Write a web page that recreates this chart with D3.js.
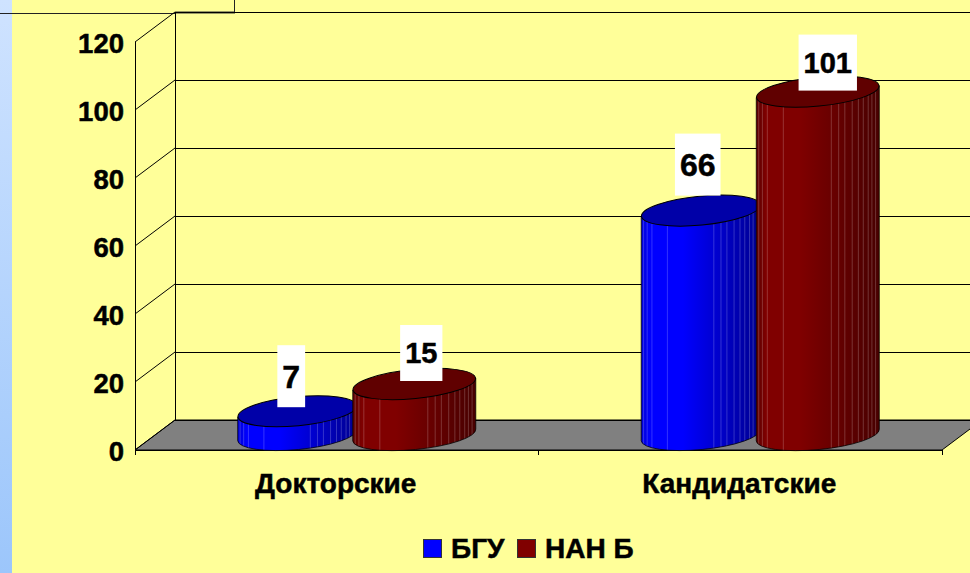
<!DOCTYPE html>
<html>
<head>
<meta charset="utf-8">
<script src="https://cdn.jsdelivr.net/npm/d3@7/dist/d3.min.js"></script>
<style>
html, body { margin: 0; padding: 0; background: #ffff99; overflow: hidden; }
svg { display: block; }
text { font-family: "Liberation Sans", Arial, sans-serif; font-weight: bold; fill: #000; stroke: #000; stroke-width: 0.5px; }
</style>
</head>
<body>
<div id="chart"></div>
<script>
// values
var categories = ["Докторские", "Кандидатские"];
var seriesNames = ["БГУ", "НАН Б"];
var bguValues = [7, 66];
var nanValues = [15, 101];
var yTicks = [0, 20, 40, 60, 80, 100, 120];

// colours for each series: body left, body mid, body right, top
var seriesColors = [
    { legend: "#0000ff", edge: "#0000d8", left: "#0000ff", right: "#000090", top: "#0000a8" },
    { legend: "#800000", edge: "#5a0000", left: "#800000", right: "#480000", top: "#600000" }
];
// small nudges for the white label boxes, as in the original
var labelStyle = [
    [{ dx: -6, dy: -4, size: 32 }, { dx: 5, dy: -3, size: 29 }],
    [{ dx: -3, dy: -15, size: 32 }, { dx: 8, dy: -1, size: 29 }]
];
// thin light streaks on the cylinders, fraction of the width
var streaks = [0.02, 0.05, 0.09, 0.22, 0.61, 0.67, 0.72, 0.78, 0.83, 0.87, 0.91, 0.94, 0.97];
// the red cylinders are a little wider and overlap the blue ones
var extraLeft = [0, 4];

const width = 970;
const height = 573;
const depthX = 40;
const depthY = -30;

var svg = d3.select("#chart")
    .append("svg")
    .attr("width", width)
    .attr("height", height);

var defs = svg.append("defs");

// page background
var strip = defs.append("linearGradient")
    .attr("id", "strip")
    .attr("x1", 0).attr("y1", 0).attr("x2", 0).attr("y2", 1);
strip.append("stop").attr("offset", "0%").attr("stop-color", "#cfe3ff");
strip.append("stop").attr("offset", "100%").attr("stop-color", "#9cc6fb");

svg.append("rect").attr("width", width).attr("height", height).attr("fill", "#ffff99");
svg.append("rect").attr("width", 12).attr("height", height).attr("fill", "url(#strip)");

// frame left over from the slide title
svg.append("line").attr("x1", 0).attr("x2", 175).attr("y1", 13.5).attr("y2", 13.5)
    .attr("stroke", "#222").attr("stroke-width", 1);
svg.append("line").attr("x1", 234.5).attr("x2", 234.5).attr("y1", 0).attr("y2", 13)
    .attr("stroke", "#222").attr("stroke-width", 1);
svg.append("line").attr("x1", 175).attr("x2", 235).attr("y1", 12.5).attr("y2", 12.5)
    .attr("stroke", "#333").attr("stroke-width", 2);

// scales
var y = d3.scaleLinear().domain([0, 120]).range([450, 42]);
var x0 = d3.scaleBand().domain(categories).range([135, 942])
    .paddingInner(0.41).paddingOuter(0.205);
var x1 = d3.scaleBand().domain(seriesNames).range([0, x0.bandwidth()]);

// floor
svg.append("polygon")
    .attr("points", [[135, y(0)], [942, y(0)], [942 + depthX, y(0) + depthY], [135 + depthX, y(0) + depthY]].join(" "))
    .attr("fill", "#808080")
    .attr("stroke", "#000")
    .attr("stroke-width", 1);

// walls and gridlines
var grid = svg.append("g").attr("stroke", "#000").attr("stroke-width", 1).attr("shape-rendering", "crispEdges");
grid.selectAll(".back")
    .data(yTicks)
    .enter().append("line")
    .attr("class", "back")
    .attr("x1", 135 + depthX)
    .attr("x2", width)
    .attr("y1", function(d) { return y(d) + depthY; })
    .attr("y2", function(d) { return y(d) + depthY; });
grid.append("line").attr("x1", 135 + depthX).attr("x2", 135 + depthX)
    .attr("y1", y(120) + depthY).attr("y2", y(0) + depthY);
grid.append("line").attr("x1", 135.5).attr("x2", 135.5)
    .attr("y1", y(120)).attr("y2", y(0) + 5);
grid.append("line").attr("x1", 135).attr("x2", 942)
    .attr("y1", y(0)).attr("y2", y(0));

svg.append("g").attr("stroke", "#000").attr("stroke-width", 1)
    .selectAll(".side")
    .data(yTicks)
    .enter().append("line")
    .attr("x1", 135)
    .attr("x2", 135 + depthX)
    .attr("y1", function(d) { return y(d); })
    .attr("y2", function(d) { return y(d) + depthY; });

// x ticks at category boundaries
var xTickPos = [135, 135 + (942 - 135) / categories.length, 942];
svg.append("g").attr("stroke", "#000").attr("shape-rendering", "crispEdges")
    .selectAll("line")
    .data(xTickPos)
    .enter().append("line")
    .attr("x1", function(d) { return d; })
    .attr("x2", function(d) { return d; })
    .attr("y1", y(0))
    .attr("y2", y(0) + 5);

// y axis labels only, the lines are drawn above
var yAxis = d3.axisLeft(y).tickValues(yTicks).tickSize(0).tickPadding(0);
var yG = svg.append("g").attr("transform", "translate(124,2)").call(yAxis);
yG.select(".domain").remove();
yG.selectAll("text").style("font-size", "27.5px")
    .style("font-family", '"Liberation Sans", Arial, sans-serif')
    .style("font-weight", "bold");

// cylinder gradients
seriesColors.forEach(function(c, i) {
    var g = defs.append("linearGradient").attr("id", "body" + i)
        .attr("x1", 0).attr("y1", 0).attr("x2", 1).attr("y2", 0);
    g.append("stop").attr("offset", "0%").attr("stop-color", c.edge);
    g.append("stop").attr("offset", "8%").attr("stop-color", c.left);
    g.append("stop").attr("offset", "35%").attr("stop-color", c.left);
    g.append("stop").attr("offset", "100%").attr("stop-color", c.right);
});

const tilt = -5.5;
const tan = Math.tan(tilt * Math.PI / 180);

function drawCylinder(sel, cat, s, value) {
    var barW = x1.bandwidth() + extraLeft[s];
    var left = x0(cat) + x1(seriesNames[s]) + depthX / 2 - extraLeft[s];
    var cx = left + barW / 2;
    var rx = barW / 2;
    var ry = 14.5;
    var dy = rx * tan;
    var baseY = y(0) + depthY / 2;
    var topY = y(value) + depthY / 2;

    var clipId = "clip" + categories.indexOf(cat) + s;
    var bodyPath = "M" + (cx - rx) + "," + (topY - dy) +
        "L" + (cx - rx) + "," + (baseY - dy) +
        "A" + rx + "," + ry + " " + tilt + " 0 0 " + (cx + rx) + "," + (baseY + dy) +
        "L" + (cx + rx) + "," + (topY + dy) + "Z";

    defs.append("clipPath").attr("id", clipId).append("path").attr("d", bodyPath);

    sel.append("path").attr("d", bodyPath).attr("fill", "url(#body" + s + ")");

    sel.append("g").attr("clip-path", "url(#" + clipId + ")")
        .selectAll("line")
        .data(streaks)
        .enter().append("line")
        .attr("x1", function(d) { return left + d * barW; })
        .attr("x2", function(d) { return left + d * barW; })
        .attr("y1", topY - 30)
        .attr("y2", baseY + 30)
        .attr("stroke", "#fff")
        .attr("stroke-opacity", 0.2)
        .attr("stroke-width", 1);

    sel.append("path").attr("d", bodyPath).attr("fill", "none").attr("stroke", "#000").attr("stroke-opacity", 0.75).attr("stroke-width", 1);

    sel.append("ellipse")
        .attr("cx", cx).attr("cy", topY)
        .attr("rx", rx).attr("ry", ry)
        .attr("transform", "rotate(" + tilt + " " + cx + " " + topY + ")")
        .attr("fill", seriesColors[s].top)
        .attr("stroke", "#000")
        .attr("stroke-width", 1);
}

// bars, blue then red so red overlaps
var seriesValues = [bguValues, nanValues];
categories.forEach(function(cat, c) {
    seriesNames.forEach(function(name, s) {
        drawCylinder(svg.append("g").attr("class", "bar"), cat, s, seriesValues[s][c]);
    });
});

// data labels on white boxes
categories.forEach(function(cat, c) {
    seriesNames.forEach(function(name, s) {
        var v = seriesValues[s][c];
        var st = labelStyle[c][s];
        var cx = x0(cat) + x1(name) + depthX / 2 + x1.bandwidth() / 2 + st.dx;
        var bottom = y(v) + depthY / 2 + st.dy;
        var boxH = 56 + (s === 0 ? 6 : 0);
        var boxW = String(v).length * st.size * 0.556 + 10;
        svg.append("rect")
            .attr("x", cx - boxW / 2).attr("y", bottom - boxH)
            .attr("width", boxW).attr("height", boxH)
            .attr("fill", "#fff");
        svg.append("text")
            .attr("x", cx).attr("y", bottom - boxH / 2)
            .attr("dy", "0.36em")
            .attr("text-anchor", "middle")
            .style("font-size", st.size + "px")
            .text(v);
    });
});

// category labels
svg.selectAll(".cat")
    .data(categories)
    .enter().append("text")
    .attr("class", "cat")
    .attr("x", function(d) { return x0(d) + x0.bandwidth() / 2 - 1; })
    .attr("y", 493)
    .attr("text-anchor", "middle")
    .style("font-size", "28px")
    .text(function(d) { return d; });

// legend
var legendX = [423, 517];
var legend = svg.selectAll(".legend")
    .data(seriesNames)
    .enter().append("g")
    .attr("class", "legend")
    .attr("transform", function(d, i) { return "translate(" + legendX[i] + ",539)"; });
legend.append("rect")
    .attr("x", 0.5).attr("y", 0.5)
    .attr("width", 18).attr("height", 18)
    .attr("fill", function(d, i) { return seriesColors[i].legend; })
    .attr("stroke", "#333");
legend.append("text")
    .attr("x", 28)
    .attr("y", 19)
    .style("font-size", "28px")
    .text(function(d) { return d; });
</script>
</body>
</html>
